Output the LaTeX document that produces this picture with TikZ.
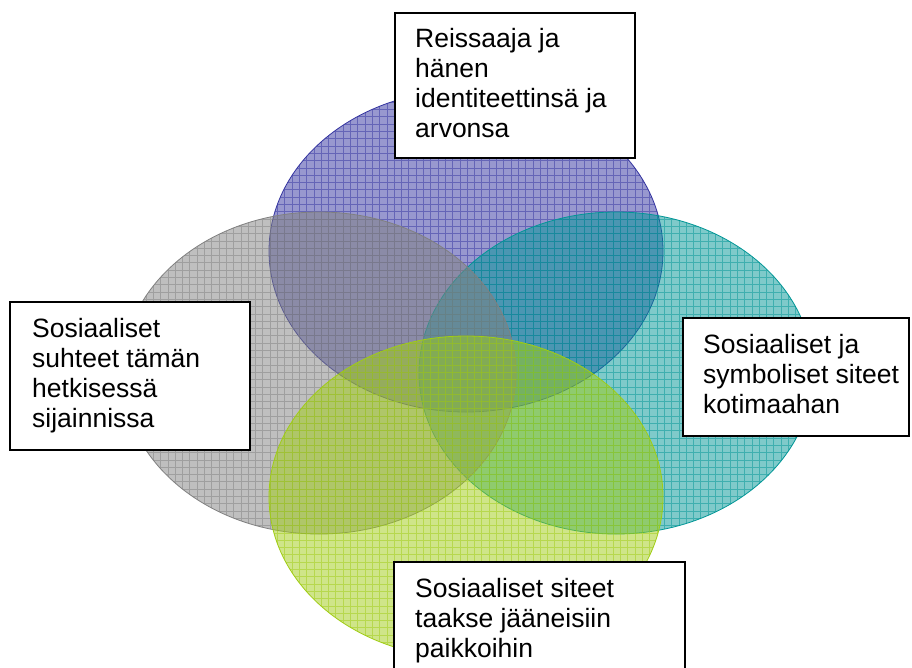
\documentclass[tikz,border=0pt]{standalone}
\usepackage{fontspec}
\setmainfont{Liberation Sans}
\definecolor{vblue}{RGB}{51,51,160}
\definecolor{vteal}{RGB}{0,150,150}
\definecolor{vgray}{RGB}{128,128,128}
\definecolor{vgreen}{RGB}{160,205,20}
\newcommand\vennblob[4]{%
  \begin{scope}
    \clip (#1,#2) ellipse [x radius=197, y radius=161];
    \fill[#3, fill opacity=0.5] (#1-200,#2-170) rectangle (#1+200,#2+170);
    \draw[#3, draw opacity=0.5, line width=0.7pt, step=7.3pt] (0,0) grid (912,700);
  \end{scope}
  \node[draw=#3, line width=0.8pt, ellipse shape, minimum width=394pt, minimum height=322pt, inner sep=0pt] (#4) at (#1,#2) {};
}
\usetikzlibrary{shapes.geometric}
\begin{document}
\begin{tikzpicture}[x=1pt,y=-1pt,
  ellipse shape/.style={ellipse},
  boxline/.style={draw=black, line width=2pt, fill=white},
  label/.style={anchor=north west, inner sep=0pt, align=left, font=\fontsize{26.5}{30}\selectfont}]
\useasboundingbox (0,0) rectangle (912,667);
\fill[white] (0,0) rectangle (912,667);
\vennblob{466}{251}{vblue}{eblue}
\vennblob{616}{373}{vteal}{eteal}
\vennblob{319}{373}{vgray}{egray}
\vennblob{466}{497}{vgreen}{egreen}
% boxes
\draw[boxline] (395,13) rectangle (635,158);
\node[label] (ttop) at (415,28) {Reissaaja ja\\hänen\\identiteettinsä ja\\arvonsa};
\draw[boxline] (10,302) rectangle (250,450);
\node[label] (tleft) at (32,318) {Sosiaaliset\\suhteet tämän\\hetkisessä\\sijainnissa};
\draw[boxline] (683,318) rectangle (909,436);
\node[label] (tright) at (703,334) {Sosiaaliset ja\\symboliset siteet\\kotimaahan};
\draw[boxline] (394,562) rectangle (685,700);
\node[label] (tbottom) at (415,578) {Sosiaaliset siteet\\taakse jääneisiin\\paikkoihin};
\end{tikzpicture}
\end{document}
